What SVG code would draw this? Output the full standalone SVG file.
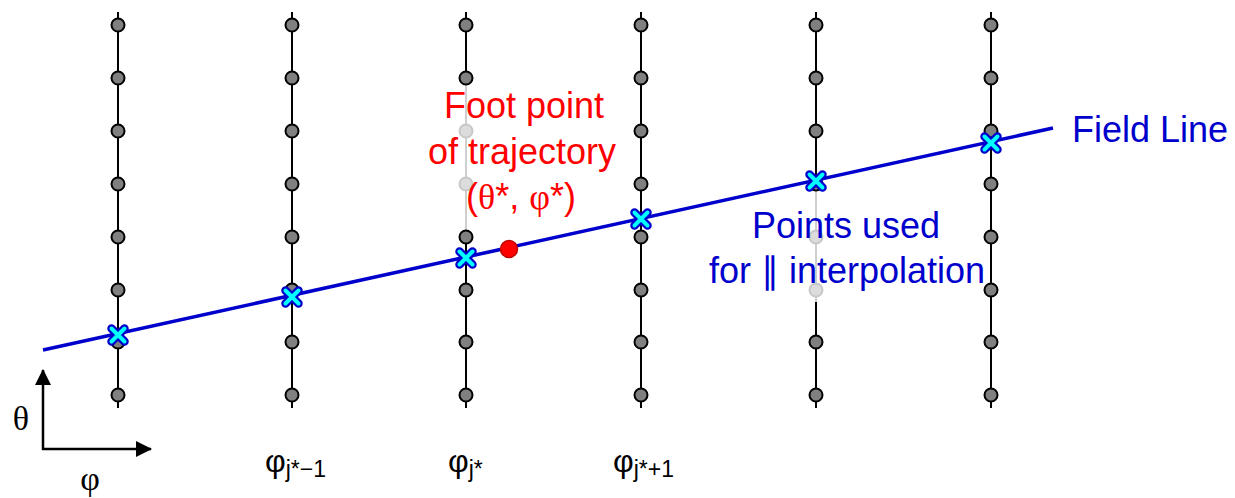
<svg xmlns="http://www.w3.org/2000/svg" width="1235" height="498" viewBox="0 0 1235 498">
<defs>
<style>
.grid{stroke:#000;stroke-width:2}
.faint{stroke:#cfcfcf;stroke-width:2}
.dot{fill:#808080;stroke:#000;stroke-width:2}
.ldot{fill:#dcdcdc;stroke:#c8c8c8;stroke-width:2}
.xo{stroke:#0000cc;stroke-width:8.5;stroke-linecap:round;fill:none}
.xi{stroke:#00ffff;stroke-width:4;stroke-linecap:round;fill:none}
</style>
<marker id="ah" viewBox="0 0 16 16" refX="15" refY="8" markerWidth="16" markerHeight="16" markerUnits="userSpaceOnUse" orient="auto">
<path d="M0,0 L16,8 L0,16 z" fill="#000"/>
</marker>
</defs>
<rect width="1235" height="498" fill="#fff"/>

<g id="grid-lines">
<line x1="118" y1="12" x2="118" y2="408" class="grid"/>
<line x1="292" y1="12" x2="292" y2="408" class="grid"/>
<line x1="466" y1="12" x2="466" y2="84" class="grid"/>
<line x1="466" y1="84" x2="466" y2="231" class="faint"/>
<line x1="466" y1="231" x2="466" y2="408" class="grid"/>
<line x1="641" y1="12" x2="641" y2="408" class="grid"/>
<line x1="816" y1="12" x2="816" y2="188" class="grid"/>
<line x1="816" y1="188" x2="816" y2="302" class="faint"/>
<line x1="816" y1="302" x2="816" y2="408" class="grid"/>
<line x1="991" y1="12" x2="991" y2="408" class="grid"/>
</g>

<g id="grid-points">
<g id="col1">
<circle cx="118" cy="25" r="6.5" class="dot"/><circle cx="118" cy="78" r="6.5" class="dot"/><circle cx="118" cy="131" r="6.5" class="dot"/><circle cx="118" cy="184" r="6.5" class="dot"/><circle cx="118" cy="237" r="6.5" class="dot"/><circle cx="118" cy="290" r="6.5" class="dot"/><circle cx="118" cy="342" r="6.5" class="dot"/><circle cx="118" cy="395" r="6.5" class="dot"/>
</g>
<g id="col2">
<circle cx="292" cy="25" r="6.5" class="dot"/><circle cx="292" cy="78" r="6.5" class="dot"/><circle cx="292" cy="131" r="6.5" class="dot"/><circle cx="292" cy="184" r="6.5" class="dot"/><circle cx="292" cy="237" r="6.5" class="dot"/><circle cx="292" cy="290" r="6.5" class="dot"/><circle cx="292" cy="342" r="6.5" class="dot"/><circle cx="292" cy="395" r="6.5" class="dot"/>
</g>
<g id="col3">
<circle cx="466" cy="25" r="6.5" class="dot"/><circle cx="466" cy="78" r="6.5" class="dot"/><circle cx="466" cy="131" r="6.5" class="ldot"/><circle cx="466" cy="184" r="6.5" class="ldot"/><circle cx="466" cy="237" r="6.5" class="dot"/><circle cx="466" cy="290" r="6.5" class="dot"/><circle cx="466" cy="342" r="6.5" class="dot"/><circle cx="466" cy="395" r="6.5" class="dot"/>
</g>
<g id="col4">
<circle cx="641" cy="25" r="6.5" class="dot"/><circle cx="641" cy="78" r="6.5" class="dot"/><circle cx="641" cy="131" r="6.5" class="dot"/><circle cx="641" cy="184" r="6.5" class="dot"/><circle cx="641" cy="237" r="6.5" class="dot"/><circle cx="641" cy="290" r="6.5" class="dot"/><circle cx="641" cy="342" r="6.5" class="dot"/><circle cx="641" cy="395" r="6.5" class="dot"/>
</g>
<g id="col5">
<circle cx="816" cy="25" r="6.5" class="dot"/><circle cx="816" cy="78" r="6.5" class="dot"/><circle cx="816" cy="131" r="6.5" class="dot"/><circle cx="816" cy="184" r="6.5" class="dot"/><circle cx="816" cy="237" r="6.5" class="ldot"/><circle cx="816" cy="290" r="6.5" class="ldot"/><circle cx="816" cy="342" r="6.5" class="dot"/><circle cx="816" cy="395" r="6.5" class="dot"/>
</g>
<g id="col6">
<circle cx="991" cy="25" r="6.5" class="dot"/><circle cx="991" cy="78" r="6.5" class="dot"/><circle cx="991" cy="131" r="6.5" class="dot"/><circle cx="991" cy="184" r="6.5" class="dot"/><circle cx="991" cy="237" r="6.5" class="dot"/><circle cx="991" cy="290" r="6.5" class="dot"/><circle cx="991" cy="342" r="6.5" class="dot"/><circle cx="991" cy="395" r="6.5" class="dot"/>
</g>
</g>

<g id="connectors">
<line id="field-line" x1="43" y1="350" x2="1053" y2="128" stroke="#0000cc" stroke-width="3.5"/>
<line id="theta-axis" x1="43" y1="450" x2="43" y2="370" stroke="#000" stroke-width="2.5" marker-end="url(#ah)"/>
<line id="phi-axis" x1="42" y1="449" x2="151" y2="449" stroke="#000" stroke-width="2.5" marker-end="url(#ah)"/>
</g>

<g id="interp-points">
<path d="M111.5,328.5 L124.5,341.5 M124.5,328.5 L111.5,341.5" class="xo"/><path d="M111.5,328.5 L124.5,341.5 M124.5,328.5 L111.5,341.5" class="xi"/>
<path d="M285.5,290.5 L298.5,303.5 M298.5,290.5 L285.5,303.5" class="xo"/><path d="M285.5,290.5 L298.5,303.5 M298.5,290.5 L285.5,303.5" class="xi"/>
<path d="M459.5,251.5 L472.5,264.5 M472.5,251.5 L459.5,264.5" class="xo"/><path d="M459.5,251.5 L472.5,264.5 M472.5,251.5 L459.5,264.5" class="xi"/>
<path d="M634.5,212.5 L647.5,225.5 M647.5,212.5 L634.5,225.5" class="xo"/><path d="M634.5,212.5 L647.5,225.5 M647.5,212.5 L634.5,225.5" class="xi"/>
<path d="M809.5,174.5 L822.5,187.5 M822.5,174.5 L809.5,187.5" class="xo"/><path d="M809.5,174.5 L822.5,187.5 M822.5,174.5 L809.5,187.5" class="xi"/>
<path d="M984.5,136.5 L997.5,149.5 M997.5,136.5 L984.5,149.5" class="xo"/><path d="M984.5,136.5 L997.5,149.5 M997.5,136.5 L984.5,149.5" class="xi"/>
</g>

<g id="foot-point">
<circle cx="509" cy="249" r="8.5" fill="#ff0000" stroke="#c00000" stroke-width="1.5"/>
</g>

<g id="foot-label" fill="#ff0000" font-size="36" text-anchor="middle" font-family="'Liberation Sans', Arial, sans-serif">
<text x="524" y="118">Foot point</text>
<text x="522" y="164">of trajectory</text>
<text x="521" y="209">(<tspan font-family="'Liberation Serif', 'Times New Roman', serif">θ</tspan>*, <tspan font-family="'Liberation Serif', 'Times New Roman', serif">φ</tspan>*)</text>
</g>

<g id="interp-label" fill="#0000cc" font-size="36" text-anchor="middle" font-family="'Liberation Sans', Arial, sans-serif">
<text x="846" y="238">Points used</text>
<text x="847" y="283">for ∥ interpolation</text>
</g>

<g id="field-label">
<text x="1072" y="142" fill="#0000cc" font-size="36" font-family="'Liberation Sans', Arial, sans-serif">Field Line</text>
</g>

<g id="axis-labels" fill="#000" font-size="34" font-family="'Liberation Serif', 'Times New Roman', serif">
<text x="21" y="430" text-anchor="middle">θ</text>
<text x="90" y="490" text-anchor="middle">φ</text>
</g>

<g id="column-labels" fill="#000" font-family="'Liberation Sans', Arial, sans-serif">
<text x="265" y="472" font-size="32">φ<tspan font-size="23" dy="5">j*−1</tspan></text>
<text x="448" y="472" font-size="32">φ<tspan font-size="23" dy="5">j*</tspan></text>
<text x="613" y="472" font-size="32">φ<tspan font-size="23" dy="5">j*+1</tspan></text>
</g>
</svg>
